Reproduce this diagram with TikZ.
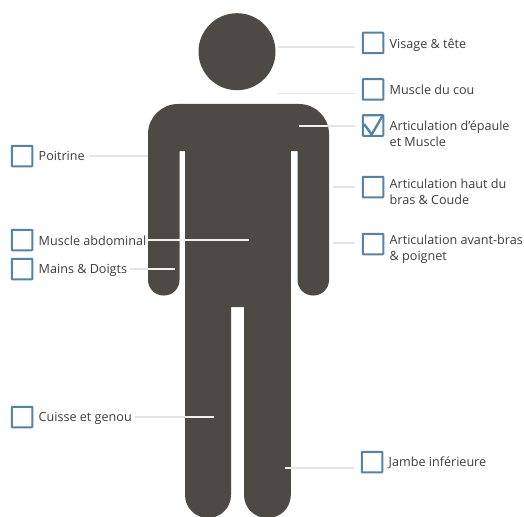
\documentclass[tikz,border=0pt]{standalone}
\usepackage{fontspec}
\setmainfont{Open Sans}
\usetikzlibrary{positioning}
\definecolor{bodygrey}{HTML}{4D4A45}
\definecolor{boxblue}{HTML}{5084A8}
\definecolor{leadgrey}{HTML}{E4E4E4}
\definecolor{textgrey}{HTML}{3C3C3C}
\tikzset{
  bodyfill/.style ={fill=bodygrey, draw=none},
  tickbox/.style  ={draw=boxblue, line width=2pt, fill=white, minimum size=20.5pt,
                    inner sep=0pt, rounded corners=0.5pt},
  tickmark/.style ={draw=boxblue, line width=2.4pt},
  partlabel/.style={anchor=base west, inner sep=0pt, align=left, text=textgrey,
                    font=\fontsize{12.6}{16}\selectfont},
  leader/.style   ={draw=leadgrey, line width=1.5pt},
  inleader/.style ={draw=white!92!bodygrey, line width=1.6pt},
}
\newcommand{\partrow}[5]{%
  \node[tickbox] (box#1) at (#2,#3) {};%
  \node[partlabel] (lbl#1) at (#2+16.5,#4) {#5};%
}
\begin{document}
\begin{tikzpicture}[x=1pt,y=-1pt]
  \useasboundingbox (0,0) rectangle (524,516);

  % figure
  \fill[bodyfill] (237,51.7) circle[radius=38.5pt];
  \fill[bodyfill] (148,220) [rounded corners=30pt] -- (148,104) -- (329,104)
    [rounded corners=15.5pt] -- (329,295.5) -- (297.5,295.5)
    [sharp corners] -- (297.5,151) -- (290.8,151)
    [rounded corners=23pt] -- (290.8,518) -- (244,518)
    [sharp corners] -- (244,307) -- (231,307)
    [rounded corners=23pt] -- (231,518) -- (185,518)
    [sharp corners] -- (185,151) -- (179.5,151)
    [rounded corners=15.5pt] -- (179.5,295.5) -- (148,295.5)
    [sharp corners] -- cycle;

  % right column
  \partrow{face}{373}{43}{48.3}{Visage \& tête}
  \partrow{neck}{373}{89.5}{95}{Muscle du cou}
  \partrow{shoulder}{373}{125.5}{146}{Articulation d'épaule\\et Muscle}
  \partrow{upperarm}{373}{187}{204.5}{Articulation haut du\\bras \& Coude}
  \partrow{forearm}{373}{244}{260.7}{Articulation avant-bras\\\& poignet}
  \partrow{shin}{372}{462}{466.7}{Jambe inférieure}

  % left column
  \partrow{chest}{22}{156}{160}{Poitrine}
  \partrow{belly}{22}{240}{245}{Muscle abdominal}
  \partrow{hand}{22}{269}{273}{Mains \& Doigts}
  \partrow{thigh}{22}{417}{421.7}{Cuisse et genou}

  \draw[tickmark] (364,124) -- (371.7,134.5) -- (383,115);

  % free ends of the leaders
  \coordinate (faceEnd) at (278,47);
  \coordinate (neckEnd) at (278,93.7);
  \coordinate (shoulderEdge) at (327,126);
  \coordinate (shoulderEnd) at (299,126);
  \coordinate (upperarmEnd) at (333,187);
  \coordinate (forearmEnd) at (333,243);
  \coordinate (chestEnd) at (148,156);
  \coordinate (bellyEnd) at (249,240);
  \coordinate (handEdge) at (148,269);
  \coordinate (handEnd) at (175,269);
  \coordinate (thighEdge) at (185,417);
  \coordinate (thighEnd) at (214,417);
  \coordinate (shinEdge) at (290,468);
  \coordinate (shinEnd) at (285,468);

  \draw[leader, shorten >=6.5pt] (faceEnd) -- (boxface.west |- faceEnd);
  \draw[leader, shorten >=6.5pt] (neckEnd) -- (boxneck.west |- neckEnd);
  \draw[leader, shorten >=6.5pt] (shoulderEdge) -- (boxshoulder.west |- shoulderEdge);
  \draw[leader, shorten >=6.5pt] (upperarmEnd) -- (boxupperarm.west |- upperarmEnd);
  \draw[leader, shorten >=6.5pt] (forearmEnd) -- (boxforearm.west |- forearmEnd);
  \draw[leader, shorten >=6.5pt] (shinEdge) -- (boxshin.west |- shinEdge);
  \draw[leader, shorten <=4pt] (lblchest.east |- chestEnd) -- (chestEnd);
  \draw[leader, shorten <=3pt] (lblhand.east |- handEdge) -- (handEdge);
  \draw[leader, shorten <=3pt] (lblthigh.east |- thighEdge) -- (thighEdge);

  \draw[inleader] (shoulderEnd) -- (shoulderEdge);
  \draw[inleader, shorten <=1pt] (lblbelly.east |- bellyEnd) -- (bellyEnd);
  \draw[inleader] (handEdge) -- (handEnd);
  \draw[inleader] (thighEdge) -- (thighEnd);
  \draw[inleader] (shinEnd) -- (shinEdge);
\end{tikzpicture}
\end{document}
